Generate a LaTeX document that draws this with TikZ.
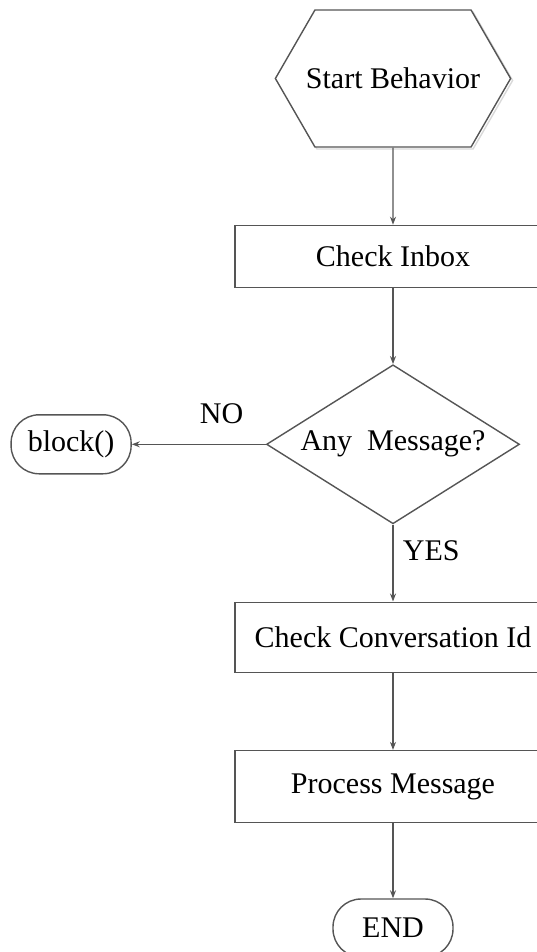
\documentclass[tikz,border=0pt]{standalone}
\usepackage{fontspec}
\setmainfont{Liberation Serif}
\usepackage{xcolor}
\usetikzlibrary{arrows.meta,positioning,shapes.geometric,shapes.symbols,shadows}
\definecolor{linegray}{RGB}{85,85,85}

\begin{document}
\begin{tikzpicture}[
  x=1pt, y=1pt,
  node distance=77pt and 134pt,
  every node/.style={font=\fontsize{30}{34}\selectfont},
  base/.style={draw=linegray, line width=1.4pt, fill=white, align=center},
  hexa/.style={base, signal, signal to=east and west, signal pointer angle=120,
               minimum width=234pt, minimum height=137pt,
               inner xsep=-9pt, inner ysep=0pt,
               general shadow={shadow xshift=2pt, shadow yshift=-2pt,
                               draw=black!15, line width=1.4pt, fill=none}},
  box/.style={base, rectangle, minimum width=316pt},
  decision/.style={base, diamond, aspect=1.6, inner sep=2pt,
                   minimum width=253pt, minimum height=159pt},
  term/.style={base, rectangle, rounded corners=28pt,
               minimum width=120pt, minimum height=58pt},
  arrow/.style={-{Stealth[length=8pt,width=6pt]}, draw=linegray, line width=1.3pt}
]
\useasboundingbox (0,0) rectangle (536,-952);
\node[hexa] (start) at (393,-78.5) {Start Behavior};
\node[box, below=of start, minimum height=62pt] (inbox) {Check Inbox};
\node[decision, below=76pt of inbox] (anymsg) {Any\ \ Message?};
\node[term, left=of anymsg, minimum height=59pt] (block) {block()};
\node[box, below=of anymsg, minimum height=70pt] (convid) {Check Conversation Id};
\node[box, below=of convid, minimum height=72pt] (process) {Process Message};
\node[term, below=75pt of process] (end) {END};
\draw[arrow] (start) -- (inbox);
\draw[arrow] (inbox) -- (anymsg);
\draw[arrow] (anymsg) -- node[above=17pt, pos=0.33] (nolbl) {NO} (block);
\draw[arrow] (anymsg) -- node[right=6pt, pos=0.34] (yeslbl) {YES} (convid);
\draw[arrow] (convid) -- (process);
\draw[arrow] (process) -- (end);
\end{tikzpicture}
\end{document}
